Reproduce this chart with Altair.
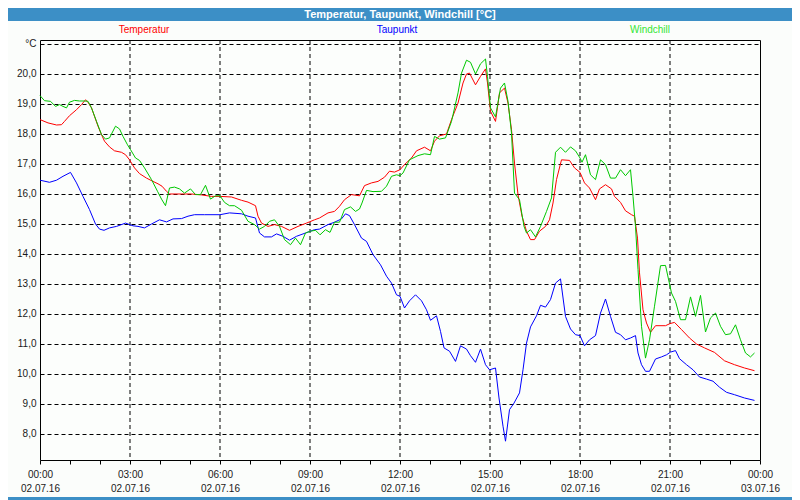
import altair as alt
import pandas as pd

# ---- data (time in minutes after 02.07.16 00:00, value in °C) ----
temp_min = [0, 16, 33, 43, 49, 59, 73, 83, 91, 96, 103, 109, 116, 123, 129, 139, 149, 163, 171, 179,
            189, 199, 213, 226, 236, 244, 253, 259, 283, 303, 323, 343,
            360, 383, 403, 416, 431, 436, 443, 456, 469, 483, 499, 516, 533, 549, 559, 576, 589, 599,
            609, 623, 639, 649, 663, 676, 689, 699, 709,
            720, 729, 743, 753, 769, 781, 789, 799, 813, 823, 836, 846, 853, 859, 871, 881, 891, 895,
            901, 911, 919, 929, 936, 943, 949, 956, 964, 973, 981, 989, 999, 1011, 1019, 1026, 1033,
            1043, 1059, 1069,
            1080, 1089, 1099, 1111, 1119, 1131, 1143, 1149, 1161, 1171, 1183, 1189, 1195, 1199, 1206,
            1213, 1221, 1231, 1251, 1260, 1269, 1283, 1299, 1313, 1329, 1349, 1369, 1389, 1409, 1429]
temp_val = [18.48, 18.37, 18.30, 18.31, 18.42, 18.61, 18.81, 18.98, 19.14, 19.06, 18.87, 18.59, 18.26, 17.98, 17.76, 17.57, 17.44, 17.39, 17.31, 17.14,
            16.87, 16.68, 16.53, 16.42, 16.34, 16.26, 16.09, 16.00, 16.00, 16.00, 15.97, 15.92,
            15.92, 15.90, 15.79, 15.73, 15.61, 15.26, 15.03, 14.92, 14.98, 14.92, 14.79, 14.92, 15.03, 15.14, 15.20, 15.37, 15.42, 15.59,
            15.81, 15.98, 15.94, 16.28, 16.37, 16.42, 16.56, 16.76, 16.73,
            16.81, 16.98, 17.20, 17.44, 17.56, 17.44, 17.76, 17.94, 18.00, 18.48, 19.03, 19.70, 20.00, 20.03, 19.64, 19.92, 20.17, 19.70,
            18.76, 18.42, 19.37, 19.53, 19.03, 18.14, 17.03, 15.98, 15.26, 14.76, 14.48, 14.48, 14.76, 14.92, 15.14, 15.70, 16.48,
            17.14, 17.12, 16.87,
            16.72, 16.37, 16.20, 15.81, 16.17, 16.31, 16.17, 15.92, 15.72, 15.44, 15.31, 15.26, 14.53, 13.37, 12.14,
            11.70, 11.39, 11.61, 11.61, 11.68, 11.72, 11.48, 11.20, 11.00, 10.87, 10.72, 10.44, 10.31, 10.20, 10.11]

dew_min = [0, 19, 33, 46, 61, 73, 86, 99, 111, 119, 128, 139, 153, 171, 186, 196, 209, 223, 239, 253,
           266, 283, 296, 309, 329,
           360, 379, 403, 416, 431, 439, 449, 463, 473, 486, 499, 513, 531, 549, 559, 576, 589, 603, 611,
           619, 629, 643, 653, 666, 681, 693, 703, 713,
           720, 729, 739, 751, 763, 773, 781, 793, 801, 808, 819, 831, 841, 853, 861, 871, 881, 891, 899,
           911, 918, 926, 931, 939, 948, 959, 966, 973, 981, 993, 1001, 1011, 1021, 1031, 1041, 1051,
           1061, 1071,
           1080, 1089, 1099, 1111, 1121, 1131, 1141, 1151, 1161, 1171, 1181, 1191, 1196, 1203, 1211,
           1219, 1231, 1243, 1253, 1261, 1271, 1279, 1293, 1306, 1319, 1333, 1346, 1359, 1373, 1389, 1409, 1429]
dew_val = [16.46, 16.39, 16.46, 16.59, 16.72, 16.37, 15.92, 15.48, 15.00, 14.83, 14.79, 14.87, 14.92, 15.03, 14.94, 14.92, 14.87, 15.00, 15.14, 15.07,
           15.17, 15.18, 15.26, 15.31, 15.31,
           15.31, 15.37, 15.34, 15.26, 15.20, 14.70, 14.57, 14.57, 14.67, 14.59, 14.46, 14.59, 14.70, 14.81, 14.83, 14.98, 15.06, 15.17, 15.34,
           15.28, 14.98, 14.53, 14.42, 13.98, 13.64, 13.26, 13.03, 12.64,
           12.59, 12.20, 12.44, 12.64, 12.44, 12.14, 11.79, 11.94, 11.42, 10.87, 10.76, 10.42, 10.94, 10.83, 10.61, 10.39, 10.83, 10.31, 10.14,
           10.20, 9.20, 8.26, 7.76, 8.81, 9.03, 9.37, 10.14, 11.03, 11.57, 11.94, 12.29, 12.23, 12.48, 13.03, 13.17, 11.92,
           11.50, 11.31,
           11.28, 10.94, 11.14, 11.28, 12.03, 12.50, 11.92, 11.39, 11.31, 11.14, 11.20, 11.28, 10.70, 10.31, 10.09,
           10.09, 10.50, 10.57, 10.64, 10.73, 10.78, 10.51, 10.31, 10.14, 9.90, 9.83, 9.76, 9.56, 9.39, 9.31, 9.20, 9.12]

wc_min = [0, 9, 21, 31, 39, 46, 53, 59, 69, 79, 89, 96, 103, 113, 123, 131, 139, 151, 159, 166, 175, 181,
          191, 199, 209, 223, 235, 243, 251, 259, 269, 279, 289, 301, 311, 321, 331, 341, 351,
          360, 369, 379, 389, 403, 416, 429, 439, 449, 459, 469, 479, 489, 501, 511, 521, 531, 541, 551,
          560, 571, 580, 589, 599, 609, 621, 631, 639, 644, 653, 666, 683, 693, 703, 713,
          720, 726, 739, 756, 769, 781, 789, 799, 811, 823, 836, 843, 853, 861, 871, 881, 891, 895, 901,
          911, 921, 929, 936, 943, 949, 959, 968, 973, 981, 991, 1001, 1013, 1023, 1031, 1041, 1051,
          1061, 1071,
          1080, 1084, 1091, 1101, 1111, 1121, 1131, 1141, 1151, 1161, 1171, 1181, 1186, 1191, 1196, 1203,
          1211, 1219, 1229, 1241, 1251, 1263, 1271, 1281, 1291, 1301, 1311, 1321, 1331, 1341, 1351, 1361,
          1371, 1381, 1391, 1401, 1411, 1421, 1429]
wc_val = [19.28, 19.11, 19.09, 18.92, 18.98, 18.92, 18.87, 19.06, 19.12, 19.10, 19.10, 19.09, 18.87, 18.42, 17.98, 17.83, 17.87, 18.26, 18.17, 17.92, 17.64, 17.48,
          17.20, 17.12, 16.87, 16.48, 16.09, 15.83, 15.61, 16.20, 16.23, 16.17, 16.03, 16.17, 15.98, 15.98, 16.29, 15.83, 15.94,
          15.94, 15.72, 15.61, 15.61, 15.46, 15.09, 14.98, 14.83, 14.92, 15.09, 15.14, 14.92, 14.48, 14.31, 14.53, 14.31, 14.70, 14.76, 14.79,
          14.64, 14.81, 14.72, 15.06, 15.06, 15.48, 15.57, 15.42, 15.50, 15.70, 16.12, 16.08, 16.09, 16.26, 16.59, 16.64,
          16.61, 16.70, 17.14, 17.28, 17.34, 17.31, 17.92, 17.83, 17.87, 18.42, 19.37, 20.03, 20.46, 20.39, 20.00, 20.34, 20.50, 19.92, 18.87,
          18.57, 19.53, 19.70, 19.09, 18.03, 16.03, 15.81, 14.92, 14.70, 14.81, 14.57, 14.92, 15.42, 15.87, 17.39, 17.56, 17.39,
          17.57, 17.44,
          17.20, 17.06, 17.31, 16.64, 16.48, 17.14, 16.98, 16.53, 16.53, 16.81, 16.61, 16.81, 15.92, 14.92, 13.48, 11.59,
          10.53, 11.14, 12.26, 13.61, 13.62, 12.70, 12.42, 11.81, 11.81, 12.57, 11.92, 12.62, 11.40, 11.87, 12.03, 11.59,
          11.31, 11.34, 11.64, 11.14, 10.70, 10.57, 10.70]

series_names = ["Temperatur", "Taupunkt", "Windchill"]
series_colors = ["#ff0000", "#0000ff", "#00c800"]
legend_colors = ["#ff0000", "#0000ff", "#33e633"]
y_ticks = [8, 9, 10, 11, 12, 13, 14, 15, 16, 17, 18, 19, 20, 21]
x_grid_hours = [3, 6, 9, 12, 15, 18, 21]
x_tick_hours = list(range(25))
title_text = "Temperatur, Taupunkt, Windchill [°C]"

rows = []
for name, mins, vals in [("Temperatur", temp_min, temp_val),
                         ("Taupunkt", dew_min, dew_val),
                         ("Windchill", wc_min, wc_val)]:
    for m, v in zip(mins, vals):
        rows.append({"series": name, "hour": m / 60.0, "value": v})
df = pd.DataFrame(rows)

FONT = "Liberation Sans"
W, H = 720, 420
FRAME_BLUE = "#3c8fc6"

x_scale = alt.Scale(domain=[0, 24], nice=False, zero=False)
y_scale = alt.Scale(domain=[7.1333, 21.1333], nice=False, zero=False)

x_axis = alt.Axis(
    values=x_tick_hours, title=None, grid=False, domain=False,
    tickColor="#000000", tickSize=4, tickWidth=1,
    labelExpr="datum.value % 3 == 0 ? [(datum.value % 24 < 10 ? '0' : '') + (datum.value % 24) + ':00', datum.value == 24 ? '03.07.16' : '02.07.16'] : ''",
    labelFlush=False, labelOverlap=False, labelBound=False,
    labelFont=FONT, labelFontSize=10, labelColor="#1a1a1a", labelPadding=5,
    labelLineHeight=14,
)
y_axis = alt.Axis(
    values=y_ticks, title=None, grid=True, gridDash=[4, 3], gridColor="#000000",
    gridOpacity=1, gridWidth=1, ticks=False, domain=False,
    labelExpr="datum.value == 21 ? '°C' : replace(format(datum.value, '.1f'), '.', ',')",
    labelFont=FONT, labelFontSize=10, labelColor="#1a1a1a", labelPadding=4,
    labelOverlap=False, labelFlush=False, labelBound=False,
)

lines = alt.Chart(df).mark_line(strokeWidth=1, interpolate="linear").encode(
    x=alt.X("hour:Q", scale=x_scale, axis=x_axis),
    y=alt.Y("value:Q", scale=y_scale, axis=y_axis),
    color=alt.Color("series:N", scale=alt.Scale(domain=series_names, range=series_colors), legend=None),
    order=alt.Order("hour:Q"),
)

vgrid = alt.Chart(pd.DataFrame({"hour": x_grid_hours})).mark_rule(
    color="#000000", strokeWidth=1, strokeDash=[4, 3]
).encode(x=alt.X("hour:Q", scale=x_scale, axis=x_axis))

legend_df = pd.DataFrame({
    "name": series_names,
    "px": [104, 357, 610],
    "col": legend_colors,
})
legend_text = alt.Chart(legend_df).mark_text(
    font=FONT, fontSize=10, baseline="middle", align="center"
).encode(
    x=alt.X("px:Q", scale=None),
    y=alt.value(-10),
    text="name:N",
    color=alt.Color("col:N", scale=None, legend=None),
)

title_bar = alt.Chart(pd.DataFrame({"a": [0]})).mark_rect(color=FRAME_BLUE).encode(
    x=alt.value(-32), x2=alt.value(752), y=alt.value(-32), y2=alt.value(-19)
)
bottom_border = alt.Chart(pd.DataFrame({"a": [0]})).mark_rect(color=FRAME_BLUE).encode(
    x=alt.value(-32), x2=alt.value(752), y=alt.value(457), y2=alt.value(460)
)
title_label = alt.Chart(pd.DataFrame({"t": [title_text]})).mark_text(
    font=FONT, fontSize=11, fontWeight="bold", color="#ffffff", align="center", baseline="middle"
).encode(x=alt.value(360), y=alt.value(-25), text="t:N")

chart = alt.layer(title_bar, bottom_border, title_label, vgrid, lines, legend_text).properties(
    width=W, height=H,
    autosize=alt.AutoSizeParams(type="none"),
    padding={"left": 32, "top": 32, "right": 32, "bottom": 40},
    background="#fbfdfb",
).configure_view(
    fill="#fcfefc", stroke="#000000", strokeWidth=1
)

chart.save("out.html", embed_options={"renderer": "svg", "actions": False})
